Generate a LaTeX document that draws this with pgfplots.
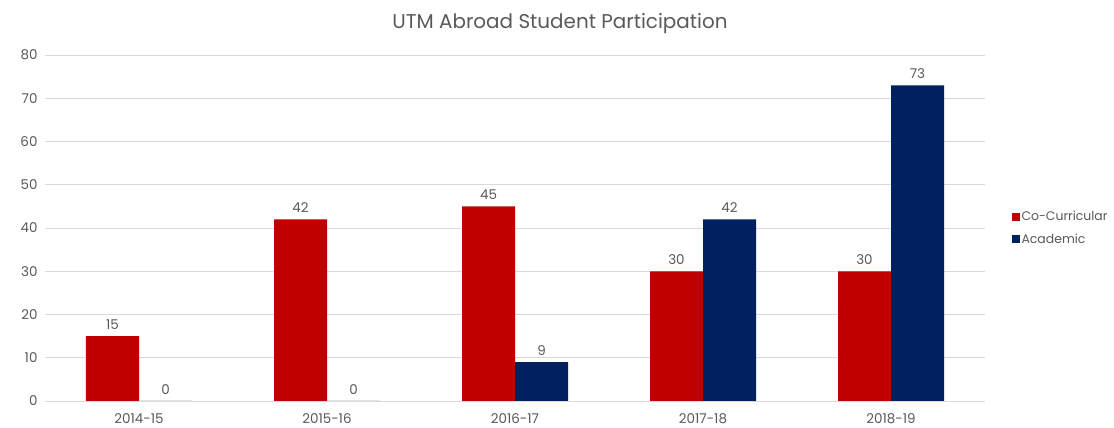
\documentclass[border=0pt]{standalone}
\usepackage{pgfplots}
\pgfplotsset{compat=1.18}
\usepackage{fontspec}
\setmainfont{Poppins}
\definecolor{cored}{HTML}{C00000}
\definecolor{acblue}{HTML}{002060}
\definecolor{txt}{HTML}{595959}
\definecolor{gridc}{HTML}{D9D9D9}
\begin{document}
\begin{tikzpicture}[x=1bp,y=1bp]
\begin{axis}[
  scale only axis,
  width=940bp, height=346bp,
  ybar=0pt, bar width=53bp,
  xmin=-0.5, xmax=4.5,
  ymin=0, ymax=80,
  xtick={0,1,2,3,4},
  xticklabels={2014-15,2015-16,2016-17,2017-18,2018-19},
  ytick={0,10,...,80},
  ymajorgrids, grid style={gridc, line width=0.8pt},
  axis line style={draw=none},
  major tick length=0pt,
  tick style={draw=none},
  ticklabel style={text=txt, font=\fontsize{13.5}{15}\selectfont},
  /pgf/number format/assume math mode=true,
  yticklabel style={xshift=-4bp},
  xticklabel style={yshift=-9bp},
  nodes near coords,
  every node near coord/.append style={text=txt, font=\fontsize{13.5}{15}\selectfont, yshift=3bp},
  title={UTM Abroad Student Participation},
  title style={text=txt, font=\fontsize{20}{24}\selectfont, yshift=12bp, xshift=45bp},
  legend style={draw=none, at={(1.028,0.5)}, anchor=west, font=\fontsize{12.5}{15}\selectfont, text=txt, row sep=8bp, legend cell align=left, inner xsep=0pt},
  legend image code/.code={\fill[#1] (0bp,-4bp) rectangle (8bp,4bp);},
]
\addplot[fill=cored, draw=none] coordinates {(0,15) (1,42) (2,45) (3,30) (4,30)};
\addplot[fill=acblue, draw=none] coordinates {(0,0) (1,0) (2,9) (3,42) (4,73)};
\draw[gridc, line width=1pt] (axis cs:-0.5,0) -- (axis cs:4.5,0);
\legend{Co-Curricular, Academic}
\end{axis}
\useasboundingbox (-45bp,-27bp) rectangle (1069bp,401bp);
\end{tikzpicture}
\end{document}
